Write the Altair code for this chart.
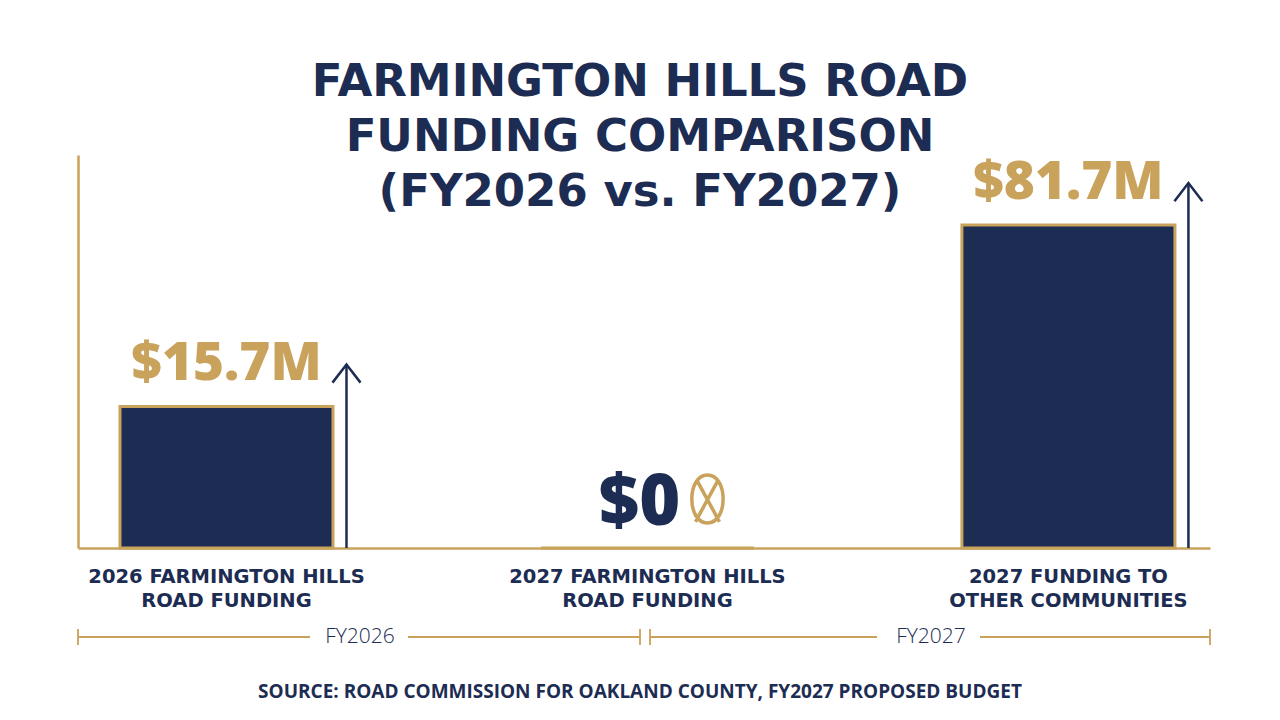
import pandas as pd
import altair as alt

NAVY = "#1c2c52"
GOLD = "#c9a25c"
FONT = "Open Sans"
WIDE = "DejaVu Sans"

# data
categories = [
    "2026 FARMINGTON HILLS\nROAD FUNDING",
    "2027 FARMINGTON HILLS\nROAD FUNDING",
    "2027 FUNDING TO\nOTHER COMMUNITIES",
]
values = [15.7, 0.0, 81.7]
value_labels = ["$15.7M", "$0", "$81.7M"]
periods = ["FY2026", "FY2027"]
title_lines = "FARMINGTON HILLS ROAD\nFUNDING COMPARISON\n(FY2026 vs. FY2027)"
source_text = "SOURCE: ROAD COMMISSION FOR OAKLAND COUNTY, FY2027 PROPOSED BUDGET"

df = pd.DataFrame({"category": categories, "value": values, "label": value_labels})

x_enc = alt.X(
    "category:N", sort=None,
    scale=alt.Scale(paddingInner=0.494, paddingOuter=0.0915, align=0.545),
    axis=alt.Axis(labels=False, ticks=False, title=None, grid=False,
                  domainColor=GOLD, domainWidth=2.5),
)
y_enc = alt.Y(
    "value:Q",
    scale=alt.Scale(type="sqrt", domain=[0, 121], range=[540, 147], nice=False),
    axis=alt.Axis(labels=False, ticks=False, title=None, grid=False,
                  domainColor=GOLD, domainWidth=2.5),
)

base = alt.Chart(df)

bars = base.mark_bar(color=NAVY, stroke=GOLD, strokeWidth=3).encode(x=x_enc, y=y_enc)

arrows = base.transform_filter("datum.value > 0").mark_rule(
    color=NAVY, strokeWidth=2.5, xOffset=120, yOffset=-42
).encode(x=x_enc, y=y_enc, y2=alt.datum(0))

heads = base.transform_filter("datum.value > 0").mark_point(
    shape="M-1,1.3L0,0L1,1.3", size=784, filled=False, stroke=NAVY,
    strokeWidth=2.5, opacity=1, xOffset=120, yOffset=-42
).encode(x=x_enc, y=y_enc)

value_text = base.transform_filter("datum.value > 0").mark_text(
    font=FONT, fontSize=53, fontWeight=800, color=GOLD, baseline="alphabetic", dy=-26
).encode(x=x_enc, y=y_enc, text="label:N")

zero_text = base.transform_filter("datum.value == 0").mark_text(
    font=FONT, fontSize=70, fontWeight=800, color=NAVY, baseline="alphabetic", dx=-8, dy=-23
).encode(x=x_enc, y=y_enc, text="label:N")

# gold crossed-out zero next to $0
zero_mark = base.transform_filter("datum.value == 0").mark_point(
    shape="M0,-1C0.87,-1 0.87,1 0,1C-0.87,1 -0.87,-1 0,-1Z"
          "M-0.45,-0.8L0.5,0.95M0.45,-0.8L-0.5,0.95",
    size=2304, filled=False, stroke=GOLD, strokeWidth=3.5, opacity=1,
    xOffset=60, yOffset=-49
).encode(x=x_enc, y=y_enc)

cat_text = base.mark_text(
    font=WIDE, fontSize=19.5, fontWeight="bold", color=NAVY, baseline="alphabetic",
    lineBreak="\n", lineHeight=24
).encode(x=x_enc, y=alt.value(575), text="category:N")


def one(d):
    return alt.Chart(pd.DataFrame([d]))


def hrule(x1, x2, y):
    return one({"k": 0}).mark_rule(color=GOLD, strokeWidth=1.8).encode(
        x=alt.value(x1), x2=alt.value(x2), y=alt.value(y))


def vrule(x, y1, y2):
    return one({"k": 0}).mark_rule(color=GOLD, strokeWidth=1.8).encode(
        x=alt.value(x), y=alt.value(y1), y2=alt.value(y2))


brackets = [
    hrule(0, 232, 629), hrule(330, 562, 629), vrule(0, 621, 637), vrule(562, 621, 637),
    hrule(572, 799, 629), hrule(902, 1132, 629), vrule(572, 621, 637), vrule(1132, 621, 637),
]
period_pos = [282, 853]
period_text = [
    one({"t": p}).mark_text(font=FONT, fontSize=21, fontWeight=300, color=NAVY,
                            baseline="middle").encode(
        x=alt.value(xp), y=alt.value(629), text="t:N")
    for p, xp in zip(periods, period_pos)
]

title = one({"t": title_lines}).mark_text(
    font=WIDE, fontSize=45, fontWeight="bold", color=NAVY, baseline="alphabetic",
    lineBreak="\n", lineHeight=55
).encode(x=alt.value(562), y=alt.value(88), text="t:N")

source = one({"t": source_text}).mark_text(
    font=FONT, fontSize=19, fontWeight=700, color=NAVY, baseline="middle"
).encode(x=alt.value(562), y=alt.value(684), text="t:N")

chart = alt.layer(
    bars, arrows, heads, value_text, zero_text, zero_mark, cat_text,
    *brackets, *period_text, title, source
).properties(
    width=1132, height=540,
    autosize="none",
    padding={"left": 70, "top": 0, "right": 62, "bottom": 164},
    background="white",
).configure_view(stroke=None)

chart.save("out.html", embed_options={"renderer": "svg", "actions": False})
